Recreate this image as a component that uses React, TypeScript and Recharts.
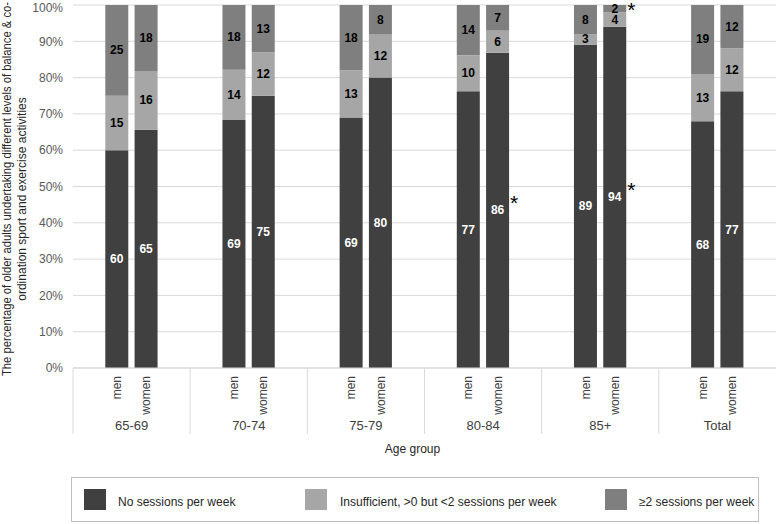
import { BarChart, Bar, XAxis, YAxis, CartesianGrid, LabelList, Legend, Label } from 'recharts';

const groups = ['65-69', '70-74', '75-79', '80-84', '85+', 'Total'];
const noneMen = [60, 69, 69, 77, 89, 68];
const noneWomen = [65, 75, 80, 86, 94, 77];
const lowMen = [15, 14, 13, 10, 3, 13];
const lowWomen = [16, 12, 12, 6, 4, 12];
const highMen = [25, 18, 18, 14, 8, 19];
const highWomen = [18, 13, 8, 7, 2, 12];
// significance markers for women (vs men)
const starNoneWomen = [false, false, false, true, true, false];
const starHighWomen = [false, false, false, false, true, false];
const yTicks = [0, 0.1, 0.2, 0.3, 0.4, 0.5, 0.6, 0.7, 0.8, 0.9, 1];

const seriesNames = ['No sessions per week', 'Insufficient, >0 but <2 sessions per week', '≥2 sessions per week'];
const colors = ['#404040', '#a6a6a6', '#7f7f7f'];

// each age group gets 4 slots: spacer, men, women, spacer
const data: any[] = [];
groups.forEach((g, i) => {
  data.push({ key: g + '-0', group: g, slot: 0 });
  data.push({ key: g + '-m', group: g, slot: 1, sex: 'men', none: noneMen[i], low: lowMen[i], high: highMen[i] });
  data.push({
    key: g + '-w', group: g, slot: 2, sex: 'women', none: noneWomen[i], low: lowWomen[i], high: highWomen[i],
    starNone: starNoneWomen[i] ? '*' : null, starHigh: starHighWomen[i] ? '*' : null,
  });
  data.push({ key: g + '-3', group: g, slot: 3 });
});

const W = 778;
const H = 524;
const LEFT = 73;
const RIGHT = 2;
const SLOT_W = (W - LEFT - RIGHT) / data.length;
const FONT = '"Liberation Sans", Arial, sans-serif';

const segLabel = (fill: string) => (props: any) => {
  const { x, y, width, height, value } = props;
  if (value == null) return null;
  return (
    <text x={x + width / 2} y={y + height / 2} dy={4} textAnchor="middle" fill={fill} fontSize={12} fontWeight="bold" fontFamily={FONT}>
      {value}
    </text>
  );
};

const starLabel = (dy: number) => (props: any) => {
  const { x, y, width, height, value } = props;
  if (!value) return null;
  return (
    <text x={x + width + 5} y={y + height / 2 + dy + 12} textAnchor="middle" fill="#000" fontSize={21} fontFamily={FONT}>
      *
    </text>
  );
};

const CategoryTick = (props: any) => {
  const { x, y, payload } = props;
  const row = data[payload.index];
  if (!row) return null;
  if (row.slot === 0) {
    return (
      <g>
        <line x1={x - SLOT_W / 2} y1={y} x2={x - SLOT_W / 2} y2={y + 66} stroke="#d9d9d9" />
        <text x={x + SLOT_W * 1.5} y={y + 62} textAnchor="middle" fill="#404040" fontSize={13} fontFamily={FONT}>
          {row.group}
        </text>
      </g>
    );
  }
  if (row.sex) {
    return (
      <text
        x={x}
        y={y + 8}
        transform={`rotate(-90, ${x}, ${y + 8})`}
        dy={4}
        textAnchor="end"
        fill="#404040"
        fontSize={12}
        fontFamily={FONT}
      >
        {row.sex}
      </text>
    );
  }
  return null;
};

const YTitle = () => (
  <g fill="#262626" fontSize={12} fontFamily={FONT}>
    <text transform="rotate(-90, 11, 189)" x={11} y={189} textAnchor="middle" textLength={374} lengthAdjust="spacingAndGlyphs">
      The percentage of older adults undertaking different levels of balance &amp; co-
    </text>
    <text transform="rotate(-90, 26, 199)" x={26} y={199} textAnchor="middle">
      ordination sport and exercise activities
    </text>
  </g>
);

const LegendBox = () => {
  const items = [
    { sq: 12, tx: 46 },
    { sq: 233, tx: 268 },
    { sq: 533, tx: 567 },
  ];
  return (
    <div style={{ position: 'relative', width: 688, height: 45, border: '1px solid #bfbfbf', boxSizing: 'border-box', fontFamily: FONT, fontSize: 12, color: '#262626' }}>
      {items.map((it, i) => (
        <div key={i}>
          <div style={{ position: 'absolute', left: it.sq, top: 11, width: 22, height: 21, background: colors[i] }} />
          <div style={{ position: 'absolute', left: it.tx, top: 17, whiteSpace: 'nowrap', lineHeight: '14px' }}>{seriesNames[i]}</div>
        </div>
      ))}
    </div>
  );
};

export default function App() {
  return (
    <div style={{ width: W, height: H, background: '#fff' }}>
      <style>{'body{margin:0}'}</style>
      <BarChart
        width={W}
        height={H}
        data={data}
        stackOffset="expand"
        barSize={23}
        margin={{ top: 5, right: RIGHT, left: 0, bottom: 56 }}
      >
        <CartesianGrid vertical={false} stroke="#d9d9d9" />
        <XAxis
          dataKey="key"
          interval={0}
          height={100}
          tickLine={false}
          tickSize={0}
          tickMargin={0}
          axisLine={{ stroke: '#d9d9d9' }}
          tick={<CategoryTick />}
        >
          <Label value="Age group" position="insideTop" offset={76} dx={-12} fill="#262626" fontSize={12} fontFamily={FONT} />
        </XAxis>
        <YAxis
          width={LEFT}
          domain={[0, 1]}
          ticks={yTicks}
          tickFormatter={(v: number) => `${Math.round(v * 100)}%`}
          tickLine={false}
          axisLine={false}
          tickSize={6}
          tickMargin={4}
          tick={{ fontSize: 12, fill: '#595959', fontFamily: FONT }}
        >
          <Label content={<YTitle />} />
        </YAxis>
        <Legend
          verticalAlign="middle"
          align="center"
          layout="horizontal"
          wrapperStyle={{ left: 71, top: 477, width: 688, height: 45 }}
          content={<LegendBox />}
        />
        <Bar dataKey="none" name={seriesNames[0]} stackId="a" fill={colors[0]} isAnimationActive={false}>
          <LabelList dataKey="none" content={segLabel('#ffffff')} />
          <LabelList dataKey="starNone" content={starLabel(-12)} />
        </Bar>
        <Bar dataKey="low" name={seriesNames[1]} stackId="a" fill={colors[1]} isAnimationActive={false}>
          <LabelList dataKey="low" content={segLabel('#000000')} />
        </Bar>
        <Bar dataKey="high" name={seriesNames[2]} stackId="a" fill={colors[2]} isAnimationActive={false}>
          <LabelList dataKey="high" content={segLabel('#000000')} />
          <LabelList dataKey="starHigh" content={starLabel(-4)} />
        </Bar>
      </BarChart>
    </div>
  );
}
